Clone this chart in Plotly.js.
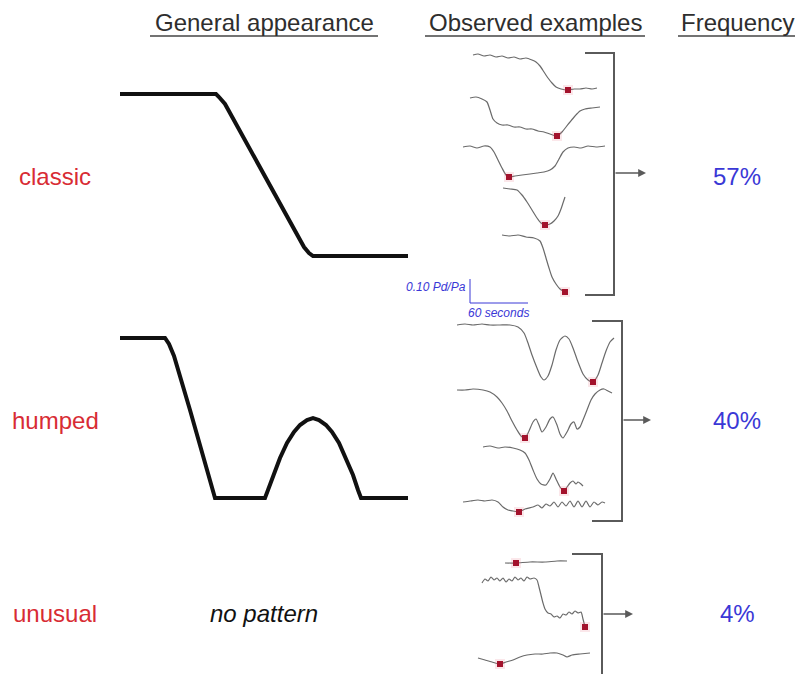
<!DOCTYPE html>
<html>
<head>
<meta charset="utf-8">
<script src="https://cdn.plot.ly/plotly-3.0.1.min.js"></script>
<style>
  html, body { margin: 0; padding: 0; background: #fff; }
  #chart { width: 798px; height: 674px; }
</style>
</head>
<body>
<div id="chart"></div>
<script>
// Idealised pressure-ratio patterns (diagram units, y grows downward)
const classicShape = [[120,94],[216,94],[219,97],[225,104],[304,247],[309,253],[313,256],[408,256]];
const humpedShape = [[120,338],[165,338],[169,344],[174,356],[190,410],[206,466],[211,484],[215,498],
  [265,498],[268,490],[273,475],[280,458],[287,443],[294,432],[300,425],[307,420],[313,418],
  [319,420],[326,425],[332,432],[339,443],[346,458],[353,475],[358,490],[361,498],[408,498]];

// Observed traces, classic pattern
const classicA = [[473,55],[478,54],[484,56],[490,55],[496,57],[502,56],[508,58],[514,57],[520,59],[526,58],[532,60],[536,62],[540,66],[544,72],[548,78],[552,83],[556,87],[561,89],[568,90],[574,89],[580,89],[586,88],[592,89],[597,88]];
const classicB = [[470,98],[476,97],[482,99],[487,102],[490,110],[493,119],[497,123],[502,125],[508,125],[514,127],[520,127],[526,129],[532,129],[538,131],[544,132],[550,134],[557,136],[562,132],[566,127],[570,122],[575,116],[580,111],[585,109],[592,108],[600,107]];
const classicC = [[463,147],[470,146],[477,148],[484,146],[490,147],[494,152],[498,160],[502,168],[506,175],[509,177],[515,176],[522,175],[530,174],[537,173],[544,172],[550,170],[555,166],[559,159],[563,152],[568,148],[574,147],[581,148],[588,146],[596,147],[605,146]];
const classicD = [[503,188],[510,189],[517,190],[522,195],[527,202],[532,210],[537,218],[541,223],[545,225],[550,224],[554,221],[558,216],[561,209],[563,203],[565,197]];
const classicE = [[502,235],[510,236],[518,235],[526,237],[534,238],[540,241],[543,248],[546,258],[549,268],[552,277],[556,284],[560,289],[565,292]];
const classicMinX = [568,557,509,545,565];
const classicMinY = [90,136,177,225,292];

// Observed traces, humped pattern
const humpedA = [[457,325],[465,324],[473,325],[482,324],[490,325],[500,325],[510,325],[518,327],[524,333],[528,343],[532,355],[537,368],[541,377],[544,380],[548,376],[552,365],[556,350],[560,340],[565,336],[569,339],[573,348],[578,362],[583,374],[588,380],[593,382],[598,375],[602,363],[606,351],[610,342],[614,338]];
const humpedB = [[457,390],[465,390],[473,389],[483,390],[490,392],[497,397],[502,403],[507,411],[512,421],[517,430],[521,436],[525,438],[529,431],[533,422],[536,419],[539,425],[542,432],[546,427],[550,419],[553,417],[557,425],[560,434],[563,438],[567,432],[571,424],[574,422],[577,429],[580,427],[583,420],[587,410],[591,400],[595,394],[600,390],[604,389],[608,391],[612,393]];
const humpedC = [[483,447],[490,446],[498,448],[505,447],[513,448],[520,450],[525,453],[529,460],[533,470],[537,479],[541,484],[546,485],[550,479],[553,473],[556,479],[560,487],[564,491],[567,487],[570,483],[573,481],[576,484],[578,482],[581,484],[583,486]];
const humpedD = [[463,502],[470,501],[478,500],[485,501],[492,500],[498,502],[503,507],[508,510],[513,511],[519,512],[525,509],[533,507],[538,505],[542,508],[546,504],[550,506],[554,502],[558,507],[562,502],[566,506],[570,501],[574,507],[578,501],[582,507],[586,501],[590,507],[594,502],[598,505],[602,502],[605,503]];
const humpedMinX = [593,525,564,519];
const humpedMinY = [382,438,491,512];

// Observed traces, unusual pattern
const unusualA = [[505,563],[516,563],[530,562],[545,562],[557,561],[567,561]];
const unusualB = [[482,583],[485,579],[488,581],[491,577],[494,580],[497,578],[500,581],[503,578],[506,582],[509,579],[512,581],[515,577],[518,580],[521,578],[524,581],[527,577],[530,579],[534,578],[537,580],[539,587],[541,595],[543,603],[545,609],[548,613],[551,614],[554,617],[557,616],[560,618],[563,614],[566,615],[569,612],[572,614],[575,611],[578,613],[581,612],[583,619],[585,627]];
const unusualC = [[478,658],[485,660],[492,662],[500,664],[506,662],[513,660],[520,657],[527,655],[535,654],[543,654],[550,653],[557,653],[563,655],[567,657],[572,655],[580,654],[590,653]];
const unusualMinX = [516,585,500];
const unusualMinY = [563,627,664];

// Row labels and shares
const categories = ['classic', 'humped', 'unusual'];
const frequencies = ['57%', '40%', '4%'];
const headers = ['General appearance', 'Observed examples', 'Frequency'];

const FONT = 'Liberation Sans, Arial, sans-serif';
const RED = '#d82c34';
const BLUE = '#3a38d6';
const GREY = '#5a5a5a';

const xs = pts => pts.map(p => p[0]);
const ys = pts => pts.map(p => p[1]);

const traces = [];

function addLine(pts, color, width) {
  traces.push({
    type: 'scatter', mode: 'lines', x: xs(pts), y: ys(pts),
    line: { color: color, width: width, shape: 'linear' }, hoverinfo: 'skip'
  });
}

// general appearance shapes
addLine(classicShape, '#111', 4);
addLine(humpedShape, '#111', 4);

// observed traces
[classicA, classicB, classicC, classicD, classicE,
 humpedA, humpedB, humpedC, humpedD,
 unusualA, unusualB, unusualC].forEach(p => {
  traces.push({
    type: 'scatter', mode: 'lines', x: xs(p), y: ys(p),
    line: { color: '#6a6a6a', width: 1.2, shape: 'spline', smoothing: 0.6 }, hoverinfo: 'skip'
  });
});

// minimum-pressure markers with a soft halo
const minX = classicMinX.concat(humpedMinX, unusualMinX);
const minY = classicMinY.concat(humpedMinY, unusualMinY);
traces.push({
  type: 'scatter', mode: 'markers', x: minX, y: minY,
  marker: { symbol: 'square', size: 10, color: 'rgba(235,120,140,0.18)' }, hoverinfo: 'skip'
});
traces.push({
  type: 'scatter', mode: 'markers', x: minX, y: minY,
  marker: { symbol: 'square', size: 6, color: '#a3122c' }, hoverinfo: 'skip'
});

// brackets grouping each set of examples
const bracketClassic = [[585,53],[614,53],[614,295],[585,295]];
const bracketHumped = [[592,321],[622,321],[622,521],[592,521]];
const bracketUnusual = [[572,554],[602,554],[602,680]];
[bracketClassic, bracketHumped, bracketUnusual].forEach(b => addLine(b, GREY, 2));

// scale bar
const scaleBar = [[470,279],[470,303],[528,303]];
addLine(scaleBar, BLUE, 1);

const annotations = [];
const headerX = [264, 535, 737];
headers.forEach((h, i) => {
  annotations.push({
    x: headerX[i], y: 22, xref: 'x', yref: 'y', text: h, showarrow: false,
    font: { family: FONT, size: 24, color: '#2e2e2e' }, xanchor: 'center', yanchor: 'middle'
  });
});

const rowY = [176, 420, 613];
categories.forEach((c, i) => {
  annotations.push({
    x: 55, y: rowY[i], xref: 'x', yref: 'y', text: c, showarrow: false,
    font: { family: FONT, size: 24, color: RED }, xanchor: 'center', yanchor: 'middle'
  });
  annotations.push({
    x: 737, y: rowY[i], xref: 'x', yref: 'y', text: frequencies[i], showarrow: false,
    font: { family: FONT, size: 24, color: BLUE }, xanchor: 'center', yanchor: 'middle'
  });
});

annotations.push({
  x: 264, y: 613, xref: 'x', yref: 'y', text: '<i>no pattern</i>', showarrow: false,
  font: { family: FONT, size: 24, color: '#111' }, xanchor: 'center', yanchor: 'middle'
});

annotations.push({
  x: 468, y: 287, xref: 'x', yref: 'y', text: '<i>0.10 Pd/Pa</i>', showarrow: false,
  font: { family: FONT, size: 12, color: BLUE }, xanchor: 'right', yanchor: 'middle'
});
annotations.push({
  x: 498, y: 313, xref: 'x', yref: 'y', text: '<i>60 seconds</i>', showarrow: false,
  font: { family: FONT, size: 12, color: BLUE }, xanchor: 'center', yanchor: 'middle'
});

// arrows from brackets to the share
const arrowFrom = [[614,173],[622,420],[602,614]];
const arrowTo = [[646,173],[651,420],[633,614]];
arrowFrom.forEach((f, i) => {
  annotations.push({
    x: arrowTo[i][0], y: arrowTo[i][1], ax: f[0], ay: f[1],
    xref: 'x', yref: 'y', axref: 'x', ayref: 'y', text: '', showarrow: true,
    arrowhead: 2, arrowsize: 1.2, arrowwidth: 1.3, arrowcolor: GREY
  });
});

// header underlines
const underlineSpan = [[150,378],[425,645],[678,795]];
const shapes = underlineSpan.map(s => ({
  type: 'line', xref: 'x', yref: 'y', x0: s[0], x1: s[1], y0: 36, y1: 36,
  line: { color: '#444', width: 1.5 }
}));

const layout = {
  width: 798, height: 674,
  margin: { l: 0, r: 0, t: 0, b: 0 },
  paper_bgcolor: '#fff', plot_bgcolor: '#fff',
  showlegend: false,
  xaxis: { range: [0, 798], visible: false, fixedrange: true },
  yaxis: { range: [674, 0], visible: false, fixedrange: true },
  annotations: annotations,
  shapes: shapes
};

Plotly.newPlot('chart', traces, layout, { staticPlot: true, displayModeBar: false });
</script>
</body>
</html>
